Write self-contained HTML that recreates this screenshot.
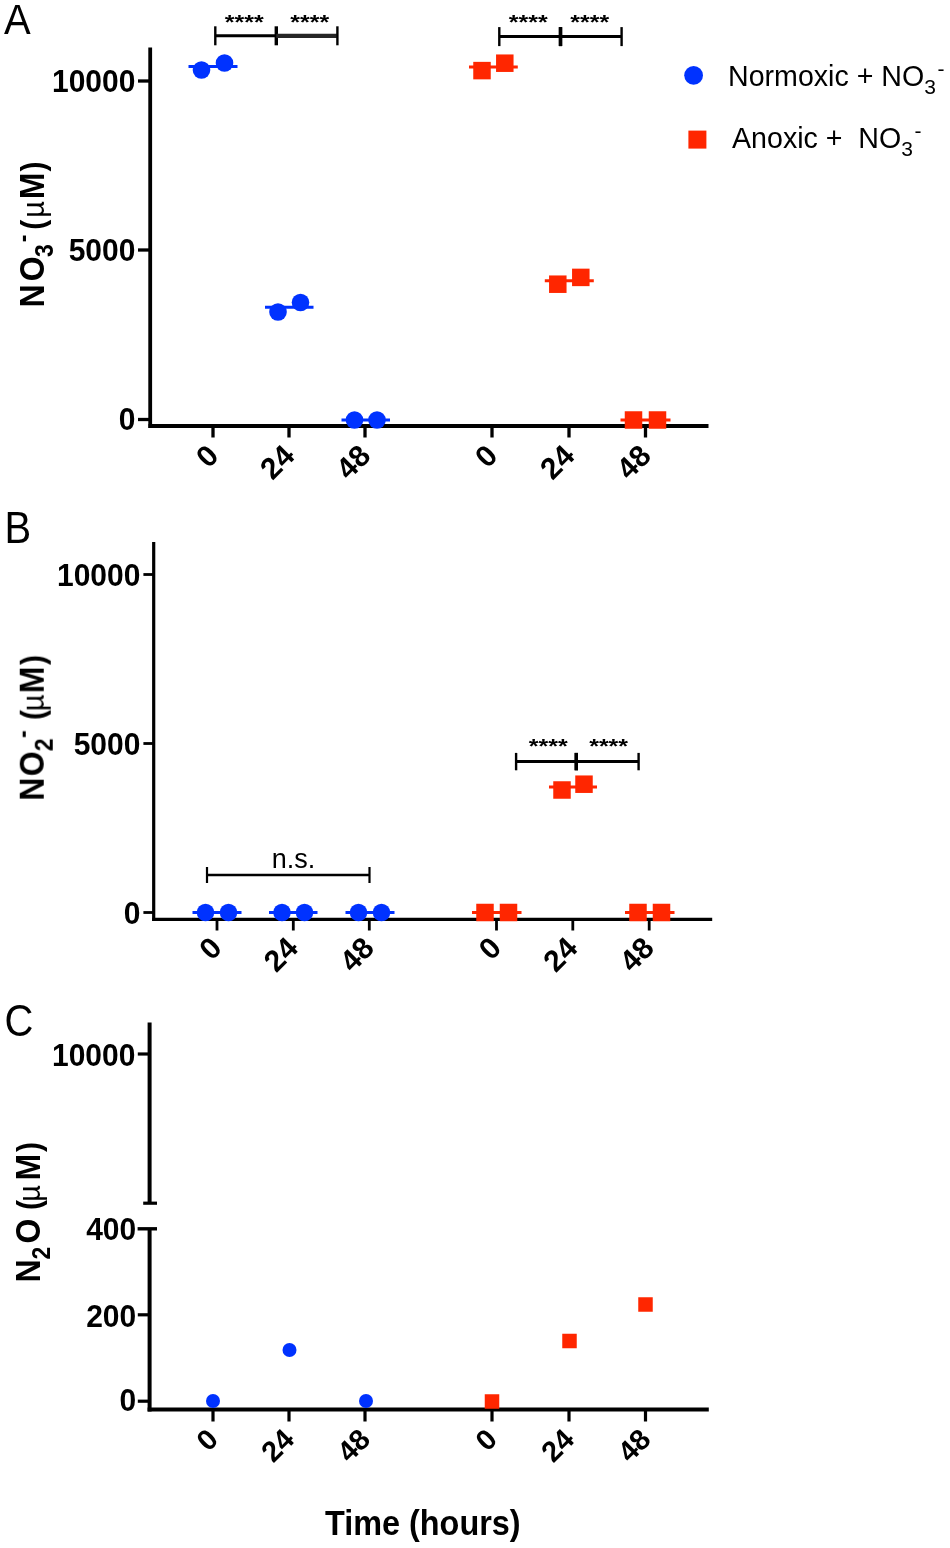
<!DOCTYPE html>
<html><head><meta charset="utf-8"><title>Figure</title>
<style>html,body{margin:0;padding:0;background:#fff}svg{display:block}text{font-family:"Liberation Sans",sans-serif;fill:#000}</style>
</head><body>
<svg width="950" height="1548" viewBox="0 0 950 1548">
<defs><filter id="soft" x="0" y="0" width="950" height="1548" filterUnits="userSpaceOnUse"><feGaussianBlur stdDeviation="0.6"/></filter></defs>
<rect width="950" height="1548" fill="#fff"/>
<g filter="url(#soft)">
<text transform="translate(4,34.3) scale(1,1.07)" font-size="40" font-weight="normal" text-anchor="start">A</text>
<line x1="150.2" y1="47.5" x2="150.2" y2="428" stroke="#000" stroke-width="3.8"/>
<line x1="148.5" y1="426" x2="708.5" y2="426" stroke="#000" stroke-width="3.8"/>
<line x1="138" y1="81" x2="150" y2="81" stroke="#000" stroke-width="3.3"/>
<text transform="translate(135.4,91.5) scale(1,1.04)" font-size="30" font-weight="bold" text-anchor="end">10000</text>
<line x1="138" y1="250" x2="150" y2="250" stroke="#000" stroke-width="3.3"/>
<text transform="translate(135.4,260.5) scale(1,1.04)" font-size="30" font-weight="bold" text-anchor="end">5000</text>
<line x1="138" y1="419.5" x2="150" y2="419.5" stroke="#000" stroke-width="3.3"/>
<text transform="translate(135.4,430.0) scale(1,1.04)" font-size="30" font-weight="bold" text-anchor="end">0</text>
<line x1="213" y1="426" x2="213" y2="437.5" stroke="#000" stroke-width="3.3"/>
<text transform="translate(220.2,457.5) rotate(-45)" font-size="30" font-weight="bold" text-anchor="end">0</text>
<line x1="289" y1="426" x2="289" y2="437.5" stroke="#000" stroke-width="3.3"/>
<text transform="translate(296.2,457.5) rotate(-45)" font-size="30" font-weight="bold" text-anchor="end">24</text>
<line x1="365" y1="426" x2="365" y2="437.5" stroke="#000" stroke-width="3.3"/>
<text transform="translate(372.2,457.5) rotate(-45)" font-size="30" font-weight="bold" text-anchor="end">48</text>
<line x1="492" y1="426" x2="492" y2="437.5" stroke="#000" stroke-width="3.3"/>
<text transform="translate(499.2,457.5) rotate(-45)" font-size="30" font-weight="bold" text-anchor="end">0</text>
<line x1="569" y1="426" x2="569" y2="437.5" stroke="#000" stroke-width="3.3"/>
<text transform="translate(576.2,457.5) rotate(-45)" font-size="30" font-weight="bold" text-anchor="end">24</text>
<line x1="645.5" y1="426" x2="645.5" y2="437.5" stroke="#000" stroke-width="3.3"/>
<text transform="translate(652.7,457.5) rotate(-45)" font-size="30" font-weight="bold" text-anchor="end">48</text>
<text transform="translate(43.5,305.5) rotate(-90) scale(1,1.11)"><tspan x="-2.11" y="0" font-size="32" font-weight="bold">N</tspan><tspan x="24.29" y="0" font-size="32" font-weight="bold">O</tspan><tspan x="48.49" y="8.5" font-size="23" font-weight="bold">3</tspan><tspan x="63.20" y="-11.5" font-size="23" font-weight="bold">-</tspan><tspan x="75.73" y="0" font-size="30" font-weight="bold">(</tspan><tspan x="87.83" y="0" font-size="29" font-weight="normal">µ</tspan><tspan x="106.29" y="0" font-size="32" font-weight="bold">M</tspan><tspan x="133.97" y="0" font-size="30" font-weight="bold">)</tspan></text>
<line x1="188.5" y1="66.5" x2="237.5" y2="66.5" stroke="#0433ff" stroke-width="3"/>
<circle cx="201.5" cy="70" r="8.8" fill="#0433ff"/>
<circle cx="224.5" cy="63" r="8.8" fill="#0433ff"/>
<line x1="265" y1="307.25" x2="313.5" y2="307.25" stroke="#0433ff" stroke-width="3"/>
<circle cx="278" cy="312" r="8.8" fill="#0433ff"/>
<circle cx="300.5" cy="302.5" r="8.8" fill="#0433ff"/>
<line x1="341.5" y1="420.0" x2="390" y2="420.0" stroke="#0433ff" stroke-width="3"/>
<circle cx="354.5" cy="420" r="8.8" fill="#0433ff"/>
<circle cx="377" cy="420" r="8.8" fill="#0433ff"/>
<line x1="469" y1="66.9" x2="517.8" y2="66.9" stroke="#ff2600" stroke-width="3"/>
<rect x="473.25" y="61.849999999999994" width="17.5" height="17.5" fill="#ff2600"/>
<rect x="496.05" y="54.45" width="17.5" height="17.5" fill="#ff2600"/>
<line x1="544.8" y1="280.79999999999995" x2="593.8" y2="280.79999999999995" stroke="#ff2600" stroke-width="3"/>
<rect x="549.05" y="275.45" width="17.5" height="17.5" fill="#ff2600"/>
<rect x="572.05" y="268.65" width="17.5" height="17.5" fill="#ff2600"/>
<line x1="620.5" y1="420.0" x2="670.5" y2="420.0" stroke="#ff2600" stroke-width="3"/>
<rect x="624.75" y="411.25" width="17.5" height="17.5" fill="#ff2600"/>
<rect x="648.75" y="411.25" width="17.5" height="17.5" fill="#ff2600"/>
<line x1="215.3" y1="35.8" x2="276.3" y2="35.8" stroke="#000" stroke-width="3"/>
<line x1="215.3" y1="26.299999999999997" x2="215.3" y2="45.3" stroke="#000" stroke-width="2.4"/>
<line x1="276.3" y1="26.299999999999997" x2="276.3" y2="45.3" stroke="#000" stroke-width="3.4"/>
<line x1="276.3" y1="35.8" x2="337.4" y2="35.8" stroke="#262626" stroke-width="4.2"/>
<line x1="337.4" y1="26.3" x2="337.4" y2="45.3" stroke="#000" stroke-width="2.4"/>
<line x1="499.3" y1="36.6" x2="560.5" y2="36.6" stroke="#000" stroke-width="3"/>
<line x1="499.3" y1="27.1" x2="499.3" y2="46.1" stroke="#000" stroke-width="2.4"/>
<line x1="560.5" y1="27.1" x2="560.5" y2="46.1" stroke="#000" stroke-width="3.4"/>
<line x1="560.5" y1="36.6" x2="621.6" y2="36.6" stroke="#000" stroke-width="3"/>
<line x1="560.5" y1="27.1" x2="560.5" y2="46.1" stroke="#000" stroke-width="3.4"/>
<line x1="621.6" y1="27.1" x2="621.6" y2="46.1" stroke="#000" stroke-width="2.4"/>
<text transform="translate(244.2,28.8) scale(1,0.8)" font-size="25" font-weight="bold" text-anchor="middle">****</text>
<text transform="translate(309.7,28.8) scale(1,0.8)" font-size="25" font-weight="bold" text-anchor="middle">****</text>
<text transform="translate(528.2,28.8) scale(1,0.8)" font-size="25" font-weight="bold" text-anchor="middle">****</text>
<text transform="translate(589.7,28.8) scale(1,0.8)" font-size="25" font-weight="bold" text-anchor="middle">****</text>
<circle cx="693.6" cy="75.3" r="9.4" fill="#0433ff"/>
<rect x="688.4" y="130.6" width="18" height="18" fill="#ff2600"/>
<text x="728" y="86" font-size="28.6">Normoxic + NO<tspan font-size="21" dy="8.3">3</tspan><tspan font-size="21" dx="1.5" dy="-18">-</tspan></text>
<text x="732" y="148" font-size="28.6">Anoxic +&#160;&#160;NO<tspan font-size="21" dy="8.3">3</tspan><tspan font-size="21" dx="1.5" dy="-18">-</tspan></text>
<text transform="translate(4.4,542.5) scale(1,1.1)" font-size="40" font-weight="normal" text-anchor="start">B</text>
<line x1="153.7" y1="542" x2="153.7" y2="921" stroke="#000" stroke-width="3.2"/>
<line x1="152.2" y1="919.4" x2="712.2" y2="919.4" stroke="#000" stroke-width="3.2"/>
<line x1="143.4" y1="574.5" x2="153.7" y2="574.5" stroke="#000" stroke-width="2.8"/>
<text transform="translate(140.4,585.5) scale(1,1.04)" font-size="30" font-weight="bold" text-anchor="end">10000</text>
<line x1="143.4" y1="743.5" x2="153.7" y2="743.5" stroke="#000" stroke-width="2.8"/>
<text transform="translate(140.4,754.5) scale(1,1.04)" font-size="30" font-weight="bold" text-anchor="end">5000</text>
<line x1="143.4" y1="912.5" x2="153.7" y2="912.5" stroke="#000" stroke-width="2.8"/>
<text transform="translate(140.4,923.5) scale(1,1.04)" font-size="30" font-weight="bold" text-anchor="end">0</text>
<line x1="217" y1="919.4" x2="217" y2="930.5" stroke="#000" stroke-width="2.8"/>
<text transform="translate(223.5,949.8) rotate(-45)" font-size="30" font-weight="bold" text-anchor="end">0</text>
<line x1="293.3" y1="919.4" x2="293.3" y2="930.5" stroke="#000" stroke-width="2.8"/>
<text transform="translate(299.8,949.8) rotate(-45)" font-size="30" font-weight="bold" text-anchor="end">24</text>
<line x1="369.3" y1="919.4" x2="369.3" y2="930.5" stroke="#000" stroke-width="2.8"/>
<text transform="translate(375.8,949.8) rotate(-45)" font-size="30" font-weight="bold" text-anchor="end">48</text>
<line x1="496.5" y1="919.4" x2="496.5" y2="930.5" stroke="#000" stroke-width="2.8"/>
<text transform="translate(503.0,949.8) rotate(-45)" font-size="30" font-weight="bold" text-anchor="end">0</text>
<line x1="572.8" y1="919.4" x2="572.8" y2="930.5" stroke="#000" stroke-width="2.8"/>
<text transform="translate(579.3,949.8) rotate(-45)" font-size="30" font-weight="bold" text-anchor="end">24</text>
<line x1="649.2" y1="919.4" x2="649.2" y2="930.5" stroke="#000" stroke-width="2.8"/>
<text transform="translate(655.7,949.8) rotate(-45)" font-size="30" font-weight="bold" text-anchor="end">48</text>
<text transform="translate(43.5,798.7) rotate(-90) scale(1,1.11)"><tspan x="-2.11" y="0" font-size="32" font-weight="bold">N</tspan><tspan x="22.49" y="0" font-size="32" font-weight="bold">O</tspan><tspan x="47.42" y="8.5" font-size="23" font-weight="bold">2</tspan><tspan x="60.70" y="-11.5" font-size="23" font-weight="bold">-</tspan><tspan x="78.73" y="0" font-size="30" font-weight="bold">(</tspan><tspan x="87.53" y="0" font-size="29" font-weight="normal">µ</tspan><tspan x="105.39" y="0" font-size="32" font-weight="bold">M</tspan><tspan x="133.67" y="0" font-size="30" font-weight="bold">)</tspan></text>
<line x1="192.5" y1="912.5" x2="241.5" y2="912.5" stroke="#0433ff" stroke-width="3"/>
<circle cx="205.5" cy="912.5" r="8.8" fill="#0433ff"/>
<circle cx="228.5" cy="912.5" r="8.8" fill="#0433ff"/>
<line x1="269" y1="912.5" x2="317.5" y2="912.5" stroke="#0433ff" stroke-width="3"/>
<circle cx="282" cy="912.5" r="8.8" fill="#0433ff"/>
<circle cx="304.5" cy="912.5" r="8.8" fill="#0433ff"/>
<line x1="345.5" y1="912.5" x2="394.5" y2="912.5" stroke="#0433ff" stroke-width="3"/>
<circle cx="358.5" cy="912.5" r="8.8" fill="#0433ff"/>
<circle cx="381.5" cy="912.5" r="8.8" fill="#0433ff"/>
<line x1="472" y1="912.5" x2="521.5" y2="912.5" stroke="#ff2600" stroke-width="3"/>
<rect x="476.25" y="903.75" width="17.5" height="17.5" fill="#ff2600"/>
<rect x="499.75" y="903.75" width="17.5" height="17.5" fill="#ff2600"/>
<line x1="625" y1="912.5" x2="674.5" y2="912.5" stroke="#ff2600" stroke-width="3"/>
<rect x="629.25" y="903.75" width="17.5" height="17.5" fill="#ff2600"/>
<rect x="652.75" y="903.75" width="17.5" height="17.5" fill="#ff2600"/>
<line x1="549" y1="787.1" x2="597" y2="787.1" stroke="#ff2600" stroke-width="3"/>
<rect x="553.25" y="781.25" width="17.5" height="17.5" fill="#ff2600"/>
<rect x="575.25" y="775.45" width="17.5" height="17.5" fill="#ff2600"/>
<line x1="207" y1="875" x2="369.5" y2="875" stroke="#000" stroke-width="2.6"/>
<line x1="207" y1="867" x2="207" y2="883" stroke="#000" stroke-width="2.2"/>
<line x1="369.5" y1="867" x2="369.5" y2="883" stroke="#000" stroke-width="2.2"/>
<text x="293.5" y="867.5" font-size="27" font-weight="normal" text-anchor="middle">n.s.</text>
<line x1="516.1" y1="761.6" x2="576.3" y2="761.6" stroke="#000" stroke-width="3"/>
<line x1="516.1" y1="752.9" x2="516.1" y2="770.3000000000001" stroke="#000" stroke-width="2.4"/>
<line x1="576.3" y1="752.9" x2="576.3" y2="770.3000000000001" stroke="#000" stroke-width="3.4"/>
<line x1="576.3" y1="761.6" x2="638.6" y2="761.6" stroke="#000" stroke-width="3"/>
<line x1="576.3" y1="752.9" x2="576.3" y2="770.3000000000001" stroke="#000" stroke-width="3.4"/>
<line x1="638.6" y1="752.9" x2="638.6" y2="770.3000000000001" stroke="#000" stroke-width="2.4"/>
<text transform="translate(548.2,753.0) scale(1,0.8)" font-size="25" font-weight="bold" text-anchor="middle">****</text>
<text transform="translate(608.6,753.0) scale(1,0.8)" font-size="25" font-weight="bold" text-anchor="middle">****</text>
<text transform="translate(4.6,1036.4) scale(1,1.11)" font-size="40" font-weight="normal" text-anchor="start">C</text>
<line x1="149.6" y1="1022.5" x2="149.6" y2="1203.2" stroke="#000" stroke-width="4"/>
<line x1="143.2" y1="1203.2" x2="157" y2="1203.2" stroke="#000" stroke-width="3.2"/>
<line x1="149.6" y1="1228.8" x2="149.6" y2="1411.4" stroke="#000" stroke-width="4"/>
<line x1="147.6" y1="1409.4" x2="708.8" y2="1409.4" stroke="#000" stroke-width="4"/>
<line x1="137.6" y1="1228.8" x2="157" y2="1228.8" stroke="#000" stroke-width="3.4"/>
<line x1="137.8" y1="1054" x2="149.6" y2="1054" stroke="#000" stroke-width="3.2"/>
<line x1="137.8" y1="1314.8" x2="149.6" y2="1314.8" stroke="#000" stroke-width="3.2"/>
<line x1="137.8" y1="1401.2" x2="149.6" y2="1401.2" stroke="#000" stroke-width="3.2"/>
<text transform="translate(135.4,1066.3) scale(1,1.04)" font-size="30" font-weight="bold" text-anchor="end">10000</text>
<text transform="translate(136.2,1240.1) scale(1,1.04)" font-size="30" font-weight="bold" text-anchor="end">400</text>
<text transform="translate(136.2,1326.5) scale(1,1.04)" font-size="30" font-weight="bold" text-anchor="end">200</text>
<text transform="translate(136.2,1410.5) scale(1,1.04)" font-size="30" font-weight="bold" text-anchor="end">0</text>
<line x1="213" y1="1409.4" x2="213" y2="1421.5" stroke="#000" stroke-width="3.2"/>
<text transform="translate(220,1441) rotate(-45)" font-size="29" font-weight="bold" text-anchor="end">0</text>
<line x1="289" y1="1409.4" x2="289" y2="1421.5" stroke="#000" stroke-width="3.2"/>
<text transform="translate(296,1441) rotate(-45)" font-size="29" font-weight="bold" text-anchor="end">24</text>
<line x1="365" y1="1409.4" x2="365" y2="1421.5" stroke="#000" stroke-width="3.2"/>
<text transform="translate(372,1441) rotate(-45)" font-size="29" font-weight="bold" text-anchor="end">48</text>
<line x1="492" y1="1409.4" x2="492" y2="1421.5" stroke="#000" stroke-width="3.2"/>
<text transform="translate(499,1441) rotate(-45)" font-size="29" font-weight="bold" text-anchor="end">0</text>
<line x1="569" y1="1409.4" x2="569" y2="1421.5" stroke="#000" stroke-width="3.2"/>
<text transform="translate(576,1441) rotate(-45)" font-size="29" font-weight="bold" text-anchor="end">24</text>
<line x1="645.5" y1="1409.4" x2="645.5" y2="1421.5" stroke="#000" stroke-width="3.2"/>
<text transform="translate(652.5,1441) rotate(-45)" font-size="29" font-weight="bold" text-anchor="end">48</text>
<text transform="translate(40.3,1280.5) rotate(-90) scale(1,1.11)"><tspan x="-2.11" y="0" font-size="32" font-weight="bold">N</tspan><tspan x="21.12" y="8.5" font-size="23" font-weight="bold">2</tspan><tspan x="37.09" y="0" font-size="32" font-weight="bold">O</tspan><tspan x="70.43" y="0" font-size="30" font-weight="bold">(</tspan><tspan x="78.73" y="0" font-size="29" font-weight="normal">µ</tspan><tspan x="99.99" y="0" font-size="32" font-weight="bold">M</tspan><tspan x="128.47" y="0" font-size="30" font-weight="bold">)</tspan></text>
<circle cx="213" cy="1401" r="7" fill="#0433ff"/>
<circle cx="289.5" cy="1350" r="7" fill="#0433ff"/>
<circle cx="366" cy="1401" r="7" fill="#0433ff"/>
<rect x="484.75" y="1394.25" width="14.5" height="14.5" fill="#ff2600"/>
<rect x="562.25" y="1333.75" width="14.5" height="14.5" fill="#ff2600"/>
<rect x="638.25" y="1297.25" width="14.5" height="14.5" fill="#ff2600"/>
<text transform="translate(325,1534.5) scale(1,1.07)" font-size="32.4" font-weight="bold" text-anchor="start">Time (hours)</text>
</g>
</svg>
</body></html>
